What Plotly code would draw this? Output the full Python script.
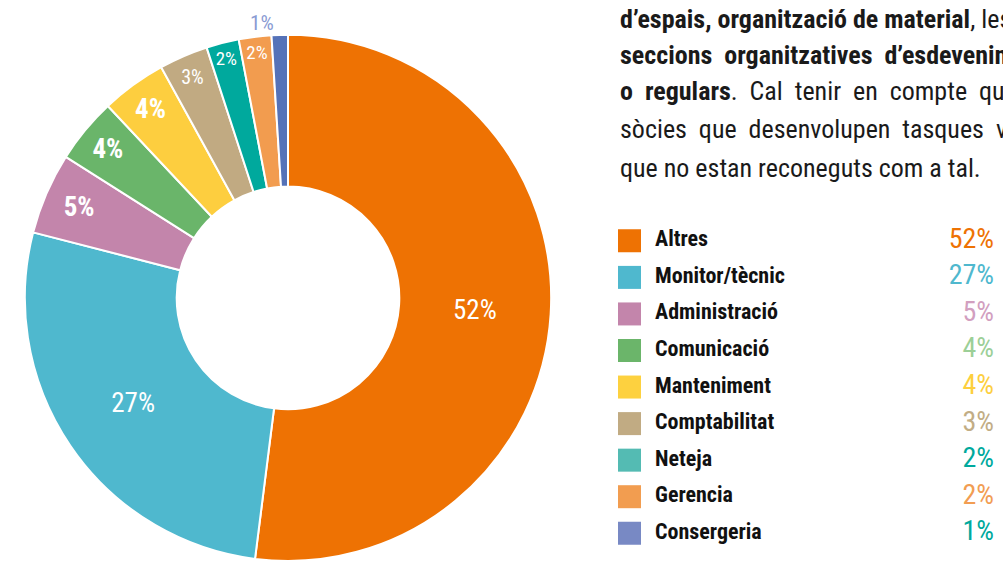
import plotly.graph_objects as go

# ---------------- data ----------------
categories = ["Altres", "Monitor/tècnic", "Administració", "Comunicació", "Manteniment",
              "Comptabilitat", "Neteja", "Gerencia", "Consergeria"]
values = [52, 27, 5, 4, 4, 3, 2, 2, 1]
pct_labels = ["52%", "27%", "5%", "4%", "4%", "3%", "2%", "2%", "1%"]

slice_colors = ["#EE7203", "#4FB8CE", "#C385AB", "#6AB56A", "#FDCE3F",
                "#C1AA82", "#00A99D", "#F29C4F", "#5572B8"]
legend_colors = ["#EE7203", "#4FB8CE", "#C385AB", "#6BB56A", "#FDD13F",
                 "#C1AB83", "#54BBB3", "#F29D50", "#7889C4"]
pct_colors = ["#EE7203", "#4FB8CE", "#D29FBF", "#9CCF97", "#FDCF3E",
              "#C2AD85", "#00A99D", "#F29D52", "#00A99D"]

paragraph = [
    "<b>d’espais, organització de material</b>, les",
    "<b>seccions  organitzatives  d’esdeveniments</b>",
    "<b>o  regulars</b>.  Cal  tenir  en  compte  que",
    "sòcies  que  desenvolupen  tasques  voluntàries",
    "que no estan reconeguts com a tal.",
]

# ---------------- styles ----------------
FONT = "Roboto Condensed, DejaVu Sans Condensed, sans-serif"
W, H = 1003, 566

inside_sizes = [27, 27, 27, 27, 27, 20, 20, 20, 21]
inside_weights = [400, 400, 700, 700, 700, 400, 400, 400, 400]
positions = ["inside"] * 8 + ["outside"]

fig = go.Figure()

fig.add_trace(go.Pie(
    labels=categories,
    values=values,
    text=pct_labels,
    textinfo="text",
    sort=False,
    direction="clockwise",
    rotation=0,
    hole=0.423,
    marker=dict(colors=slice_colors, line=dict(color="white", width=2)),
    textposition=positions,
    insidetextorientation="horizontal",
    insidetextfont=dict(family=FONT, size=inside_sizes, color="white", weight=inside_weights),
    outsidetextfont=dict(family=FONT, size=21, color="#8A9BD3"),
    domain=dict(x=[20 / W, 556 / W], y=[0, 1 - 35 / H]),
    showlegend=False,
    hoverinfo="label+value",
))

# legend squares
fig.add_trace(go.Scatter(
    x=[629.5] * len(categories), y=categories, mode="markers",
    marker=dict(symbol="square", size=23, color=legend_colors, line=dict(width=0)),
    showlegend=False, hoverinfo="skip",
))
# legend labels
fig.add_trace(go.Scatter(
    x=[655] * len(categories), y=categories, mode="text", text=categories,
    textposition="middle right",
    textfont=dict(family=FONT, size=22, color="#111111", weight=700),
    showlegend=False, hoverinfo="skip",
))
# legend percentages
fig.add_trace(go.Scatter(
    x=[994] * len(categories), y=categories, mode="text", text=pct_labels,
    textposition="middle left",
    textfont=dict(family=FONT, size=28, color=pct_colors),
    showlegend=False, hoverinfo="skip",
))

# paragraph text
line_baselines = [27, 63, 100, 138, 177]
for txt, yb in zip(paragraph, line_baselines):
    fig.add_annotation(
        x=618 / W, y=1 - (yb - 8) / H, xref="paper", yref="paper",
        xanchor="left", yanchor="middle", showarrow=False, align="left",
        text=txt, font=dict(family=FONT, size=26, color="#1a1a1a"),
    )

row_top, row_bottom = 243 - 18.45, 538 + 18.45
fig.update_layout(
    width=W, height=H,
    margin=dict(l=0, r=0, t=0, b=0),
    paper_bgcolor="white", plot_bgcolor="rgba(0,0,0,0)",
    xaxis=dict(range=[0, W], domain=[0, 1], visible=False, fixedrange=True),
    yaxis=dict(type="category", categoryorder="array", categoryarray=categories,
               range=[len(categories) - 0.5, -0.5],
               domain=[max(0, 1 - row_bottom / H), 1 - row_top / H], visible=False, fixedrange=True),
    font=dict(family=FONT),
)

fig.write_html("out.html", config={"displayModeBar": False},
               post_script="document.body.style.margin='0';")
